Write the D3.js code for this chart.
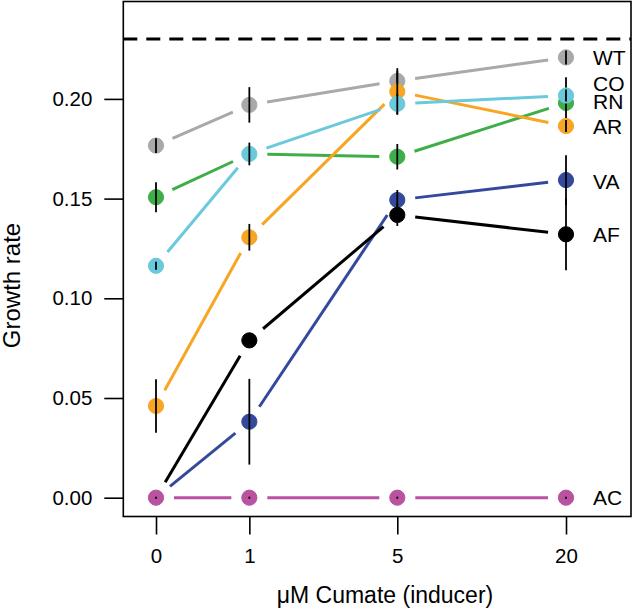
<!DOCTYPE html>
<html><head><meta charset="utf-8">
<script src="https://cdn.jsdelivr.net/npm/d3@7"></script>
<style>body{margin:0;background:#fff}svg{display:block}text{font-family:"Liberation Sans",Arial,Helvetica,sans-serif;fill:#000}</style>
</head><body>
<svg id="chart" width="634" height="608"></svg>
<script>
// ---- data ----
const doses = [0, 1, 5, 20];
const doseLabels = ["0", "1", "5", "20"];
const yTicks = [0, 0.05, 0.10, 0.15, 0.20];
const refLine = 0.23;
const seriesNames = ["WT", "RN", "AR", "CO", "VA", "AF", "AC"];
const seriesColors = ["#a9a9a9", "#3fae49", "#f6a623", "#6ac9da", "#34499c", "#000000", "#b9529f"];
const WT = [0.1766, 0.197, 0.209, 0.2208];
const RN = [0.1507, 0.1724, 0.171, 0.198];
const AR = [0.046, 0.1306, 0.2037, 0.1864];
const CO = [0.1163, 0.1724, 0.1975, 0.2017];
const VA = [0.0, 0.0381, 0.1493, 0.1593];
const AF = [0.0, 0.0789, 0.1418, 0.1321];
const AC = [0.0, 0.0, 0.0, 0.0];
const WT_err = [0.0037, 0.0089, 0.005, 0.0035];
const RN_err = [0.0075, 0.003, 0.0064, 0.0128];
const AR_err = [0.0134, 0.0067, 0.0117, 0.003];
const CO_err = [0.002, 0.0057, 0.005, 0.003];
const VA_err = [0.0, 0.0215, 0.005, 0.0125];
const AF_err = [0.0, 0.003, 0.0055, 0.018];
const AC_err = [0.0005, 0.0005, 0.0005, 0.0005];
// label heights (data units) for the series names at the right
const labelValues = [0.2209, 0.1986, 0.1861, 0.2078, 0.1588, 0.1321, 0.0];

const values = [WT, RN, AR, CO, VA, AF, AC];
const errors = [WT_err, RN_err, AR_err, CO_err, VA_err, AF_err, AC_err];

// ---- layout ----
const svg = d3.select("#chart");
const box = {left: 123.3, right: 631, top: 1.5, bottom: 516.5};
const x = d3.scaleSymlog().constant(1).domain([0, 20]).range([156, 566]);
const y = d3.scaleLinear().domain([0, 0.25]).range([497.7, -0.8]);
const R = 7.6, GAP = 18;

// frame
svg.append("rect").attr("x", box.left).attr("y", box.top)
  .attr("width", box.right - box.left).attr("height", box.bottom - box.top)
  .attr("fill", "none").attr("stroke", "#000").attr("stroke-width", 1.6);

// y axis
const yAxis = d3.axisLeft(y).tickValues(yTicks).tickFormat(d3.format(".2f")).tickSize(19).tickPadding(12);
const gy = svg.append("g").attr("transform", `translate(${box.left},0)`).call(yAxis);
gy.select(".domain").remove();
gy.selectAll(".tick line").attr("stroke", "#000").attr("stroke-width", 1.6);
gy.selectAll(".tick text").attr("font-size", 20.5).attr("font-family", "Liberation Sans, Arial, sans-serif");

// x axis
const xAxis = d3.axisBottom(x).tickValues(doses).tickFormat((d, i) => doseLabels[i]).tickSize(18).tickPadding(14);
const gx = svg.append("g").attr("transform", `translate(0,${box.bottom})`).call(xAxis);
gx.select(".domain").remove();
gx.selectAll(".tick line").attr("stroke", "#000").attr("stroke-width", 1.6);
gx.selectAll(".tick text").attr("font-size", 20.5).attr("font-family", "Liberation Sans, Arial, sans-serif");

// axis titles
svg.append("text").attr("x", 385).attr("y", 603).attr("text-anchor", "middle")
  .attr("font-size", 23).text("\u03bcM Cumate (inducer)");
svg.append("text").attr("transform", "translate(20,285.5) rotate(-90)").attr("text-anchor", "middle")
  .attr("font-size", 24).text("Growth rate");

// reference dashed line
svg.append("line").attr("x1", box.left).attr("x2", box.right)
  .attr("y1", y(refLine)).attr("y2", y(refLine))
  .attr("stroke", "#000").attr("stroke-width", 3).attr("stroke-dasharray", "14,9");

// a point is fully hidden if a later-drawn series sits exactly on it
const hidden = (si, i) => values.some((vals, sj) => sj > si && vals[i] === values[si][i]);

// series
values.forEach((vals, si) => {
  const g = svg.append("g");
  const col = seriesColors[si];
  const pts = vals.map((v, i) => [x(doses[i]), y(v)]);
  // line segments with gaps around the points (type "b")
  for (let i = 0; i < pts.length - 1; i++) {
    const [x1, y1] = pts[i], [x2, y2] = pts[i + 1];
    const dx = x2 - x1, dy = y2 - y1, L = Math.hypot(dx, dy);
    if (L <= 2 * GAP) continue;
    const ux = dx / L, uy = dy / L;
    g.append("line")
      .attr("x1", x1 + ux * GAP).attr("y1", y1 + uy * GAP)
      .attr("x2", x2 - ux * GAP).attr("y2", y2 - uy * GAP)
      .attr("stroke", col).attr("stroke-width", 3);
  }
  g.selectAll("circle").data(vals).join("circle")
    .attr("cx", (d, i) => x(doses[i])).attr("cy", d => y(d)).attr("r", R)
    .attr("fill", col).attr("stroke", col).attr("stroke-width", 1)
    .style("display", (d, i) => hidden(si, i) ? "none" : null);
  g.selectAll("line.err").data(vals).join("line").attr("class", "err")
    .attr("x1", (d, i) => x(doses[i])).attr("x2", (d, i) => x(doses[i]))
    .attr("y1", (d, i) => y(d - errors[si][i])).attr("y2", (d, i) => y(d + errors[si][i]))
    .attr("stroke", "#000").attr("stroke-width", 1.8)
    .style("display", (d, i) => errors[si][i] > 0 ? null : "none");
  svg.append("text").attr("x", 593).attr("y", y(labelValues[si])).attr("dy", "0.36em")
    .attr("font-size", 21).text(seriesNames[si]);
});
</script>
</body></html>
